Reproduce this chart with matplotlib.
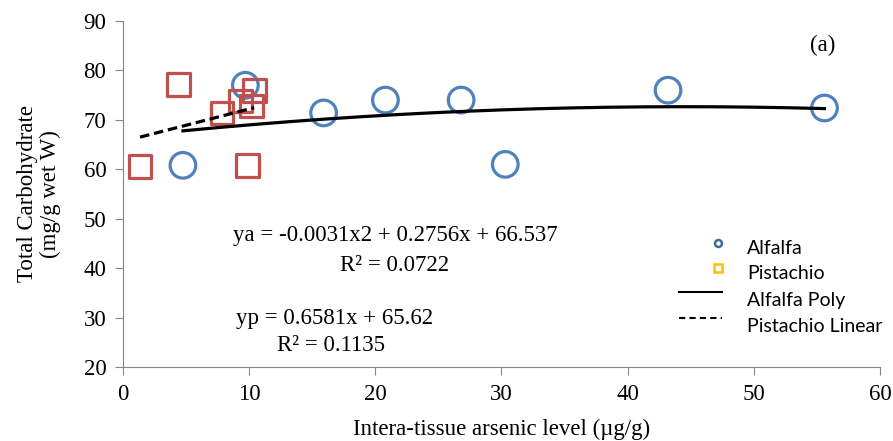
import numpy as np
import matplotlib.pyplot as plt

# alfalfa samples
alfalfa_x = [4.75, 9.7, 15.9, 20.8, 26.8, 30.3, 43.2, 55.6]
alfalfa_y = [60.8, 77.0, 71.4, 74.0, 74.0, 61.0, 76.0, 72.4]

# pistachio samples
pistachio_x = [1.35, 4.4, 7.85, 9.3, 10.4, 10.2, 9.9]
pistachio_y = [60.6, 77.2, 71.4, 73.8, 76.0, 72.8, 60.8]

# trendline coefficients as printed on the chart
alfalfa_poly = [-0.0031, 0.2756, 66.537]
pistachio_lin = [0.6581, 65.62]

serif = "Liberation Serif"
sans = "Lato"
fs = 16.5

fig = plt.figure(figsize=(8.93, 4.41), dpi=100)
ax = fig.add_axes([123 / 893, 1 - 367 / 441, (880 - 123) / 893, (367 - 21) / 441])

ax.scatter(alfalfa_x, alfalfa_y, s=340, facecolors="none", edgecolors="#4F81BD",
           linewidths=2.3, zorder=3)
ax.scatter(pistachio_x, pistachio_y, s=270, marker="s", facecolors="none",
           edgecolors="#C0504D", linewidths=2.3, zorder=3)

xa = np.linspace(min(alfalfa_x), max(alfalfa_x), 200)
ax.plot(xa, np.polyval(alfalfa_poly, xa), color="black", lw=2.3, zorder=4)
xp = np.linspace(min(pistachio_x), max(pistachio_x), 50)
ax.plot(xp, np.polyval(pistachio_lin, xp), color="black", lw=2.3, ls=(0, (3, 1.5)), zorder=4)

ax.set_xlim(0, 60)
ax.set_ylim(20, 90)
ax.set_xticks(range(0, 61, 10))
ax.set_yticks(range(20, 91, 10))
for s in ["top", "right"]:
    ax.spines[s].set_visible(False)
for s in ["left", "bottom"]:
    ax.spines[s].set_color("#868686")
ax.tick_params(direction="out", length=6, color="#868686", labelsize=fs, pad=6)
for lab in ax.get_xticklabels() + ax.get_yticklabels():
    lab.set_fontfamily(serif)

ax.set_xlabel("Intera-tissue arsenic level (\u00b5g/g)", fontsize=fs, family=serif, labelpad=10)
ax.set_ylabel("Total Carbohydrate\n(mg/g wet W)", fontsize=fs, family=serif, linespacing=1.1)
ax.yaxis.set_label_coords(-0.082, 0.5)

ax.text(21.55, 46.7, "ya = -0.0031x2 + 0.2756x + 66.537", fontsize=fs, family=serif,
        ha="center", va="center")
ax.text(21.5, 40.6, "R\u00b2 = 0.0722", fontsize=fs, family=serif, ha="center", va="center")
ax.text(16.8, 29.9, "yp = 0.6581x + 65.62", fontsize=fs, family=serif, ha="center", va="center")
ax.text(16.5, 24.4, "R\u00b2 = 0.1135", fontsize=fs, family=serif, ha="center", va="center")
ax.text(55.47, 85.1, "(a)", fontsize=fs, family=serif, ha="center", va="center")

# legend drawn by hand to place marker and text like the original
leg_x = 49.45
leg_text_y = [44.05, 39.0, 33.5, 28.1]
leg_labels = ["Alfalfa", "Pistachio", "Alfalfa Poly", "Pistachio Linear"]
ax.plot([47.15], [45.06], marker="o", ms=5, mfc="none", mec="#3F6A9A", mew=1.8, clip_on=False)
ax.plot([47.15], [40.0], marker="s", ms=6, mfc="none", mec="#FFC000", mew=1.8, clip_on=False)
ax.plot([44.1, 47.5], [35.14] * 2, color="black", lw=1.5, clip_on=False)
ax.plot([44.1, 47.5], [29.9] * 2, color="black", lw=1.5, ls=(0, (3, 2)), clip_on=False)
for y, t in zip(leg_text_y, leg_labels):
    ax.text(leg_x, y, t, fontsize=14, family=sans, ha="left", va="center")

fig.savefig("out.png", dpi=100)
